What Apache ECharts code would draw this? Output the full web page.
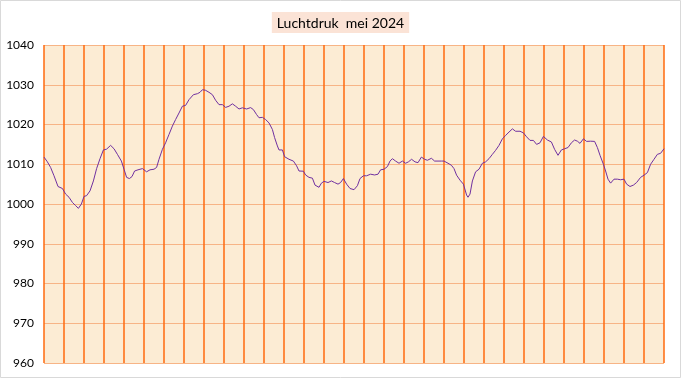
<!DOCTYPE html>
<html><head><meta charset="utf-8">
<script src="https://cdn.jsdelivr.net/npm/echarts@6/dist/echarts.min.js"></script>
<style>html,body{margin:0;padding:0;background:#fff}#c{width:681px;height:378px}</style>
</head><body><div id="c"></div>
<script>
// time in days since 1 May 00:00, pressure in hPa
const days = [
0,0.17,0.33,0.5,0.7,0.92,1.08,1.25,1.42,1.58,1.72,1.87,2.0,2.13,2.3,2.47,2.63,2.8,2.97,3.13,3.33,3.5,3.67,3.87,4.0,4.13,4.27,4.4,4.53,4.7,4.92,
5.0,5.13,5.3,5.5,5.63,5.75,5.92,6.08,6.25,6.42,6.58,6.75,6.92,7.08,7.25,7.47,7.67,7.8,7.92,8.08,8.25,8.42,8.58,8.75,8.92,9.08,9.25,9.42,9.58,9.75,9.92,
10.0,10.13,10.33,10.47,10.63,10.75,10.92,11.08,11.25,11.42,11.53,11.67,11.75,11.92,12.03,12.25,12.47,12.63,12.75,12.97,13.08,13.25,13.42,13.55,13.75,13.87,14.0,14.2,14.37,14.53,14.7,14.83,14.97,
15.13,15.3,15.5,15.67,15.8,15.97,16.13,16.33,16.53,16.7,16.83,17.0,17.17,17.3,17.42,17.58,17.75,17.92,18.08,18.22,18.38,18.55,18.7,18.87,19.03,19.17,19.37,19.53,19.7,19.87,
20.0,20.2,20.37,20.5,20.63,20.8,20.97,21.07,21.13,21.2,21.3,21.42,21.58,21.75,21.92,22.08,22.25,22.42,22.58,22.75,22.92,23.08,23.25,23.42,23.58,23.8,23.97,24.13,24.3,24.47,24.63,24.8,24.97,
25.17,25.37,25.53,25.7,25.8,25.87,26.03,26.2,26.37,26.53,26.67,26.8,26.97,27.13,27.33,27.53,27.67,27.8,27.97,28.08,28.2,28.33,28.5,28.67,28.83,29.0,29.13,29.3,29.47,29.63,29.83,30.0,30.17,30.33,30.5,30.67,30.83,31.0
];
const pressure = [
1011.8,1010.6,1009.2,1007.1,1004.4,1003.9,1002.5,1001.7,1000.4,999.6,998.9,1000.0,1001.9,1002.1,1003.3,1005.8,1008.9,1011.4,1013.6,1013.8,1014.75,1013.9,1012.5,1010.8,1008.75,1006.7,1006.4,1006.9,1008.3,1008.6,1008.9,
1008.6,1008.1,1008.6,1008.75,1009.2,1011.25,1013.75,1015.4,1017.5,1019.6,1021.25,1022.9,1024.6,1024.8,1026.25,1027.5,1027.75,1028.1,1028.75,1028.6,1028.1,1027.5,1026.1,1025.0,1025.0,1024.3,1024.6,1025.2,1024.6,1023.9,1024.2,
1024.4,1023.9,1024.25,1023.75,1022.5,1021.7,1021.8,1021.25,1020.4,1018.75,1016.7,1014.6,1013.6,1013.6,1011.9,1011.25,1010.8,1009.6,1008.3,1008.25,1007.3,1006.7,1006.5,1004.75,1004.2,1005.25,1005.7,1005.4,1005.8,1005.4,1005.0,1005.4,1006.4,
1005.0,1003.9,1003.6,1004.6,1006.4,1007.1,1007.1,1007.5,1007.3,1007.5,1008.6,1008.75,1009.4,1010.8,1011.4,1010.8,1010.25,1010.8,1010.25,1010.6,1011.25,1010.6,1010.4,1011.8,1011.25,1011.0,1011.5,1010.8,1010.8,1010.8,
1010.8,1010.25,1009.75,1008.9,1007.25,1006.0,1005.0,1004.6,1002.25,1001.7,1002.5,1005.8,1008.1,1008.75,1010.25,1010.6,1011.4,1012.5,1013.5,1014.75,1016.4,1017.25,1018.1,1018.9,1018.3,1018.3,1017.9,1016.9,1016.0,1016.0,1015.0,1015.4,1017.0,
1016.1,1015.6,1013.75,1012.25,1012.1,1013.6,1013.9,1014.2,1015.4,1016.1,1015.8,1015.25,1016.4,1015.75,1015.8,1015.75,1014.2,1012.25,1010.0,1008.3,1006.25,1005.25,1006.25,1006.25,1006.1,1006.25,1005.0,1004.4,1004.75,1005.4,1006.7,1007.25,1007.9,1010.0,1011.25,1012.5,1012.75,1013.9
];
const yTicks = [960, 1040, 10];
const titleText = 'Luchtdruk  mei 2024';

const chart = echarts.init(document.getElementById('c'), null, {renderer: 'canvas'});
chart.setOption({
  animation: false,
  backgroundColor: '#ffffff',
  title: {
    text: titleText, left: 'center', top: 12,
    backgroundColor: '#FBE3D6', padding: [4, 5, 3, 5],
    textStyle: {fontFamily: 'Lato', fontSize: 14, fontWeight: 'normal', color: '#000'}
  },
  graphic: [{type: 'rect', shape: {x: 0.5, y: 0.5, width: 680, height: 377}, style: {fill: 'none', stroke: '#D9D9D9', lineWidth: 1}, silent: true}],
  grid: {left: 44, right: 17, top: 45, bottom: 15, show: true, backgroundColor: '#FCECD4', borderWidth: 0, containLabel: false},
  xAxis: {
    type: 'value', min: 0, max: 31, interval: 1,
    axisLine: {show: false}, axisTick: {show: false}, axisLabel: {show: false},
    splitLine: {show: true, lineStyle: {color: '#FF6A0E', width: 1.5}}
  },
  yAxis: {
    type: 'value', min: yTicks[0], max: yTicks[1], interval: yTicks[2],
    axisLine: {show: false}, axisTick: {show: false},
    axisLabel: {color: '#000', fontFamily: 'Lato', fontSize: 12, margin: 10, formatter: v => String(v)},
    splitLine: {show: true, lineStyle: {color: '#F7B486', width: 1}}
  },
  series: [{
    type: 'line', showSymbol: false, smooth: false,
    data: days.map((d, i) => [d, pressure[i]]),
    lineStyle: {color: '#7030A0', width: 1}
  }]
});
</script></body></html>
